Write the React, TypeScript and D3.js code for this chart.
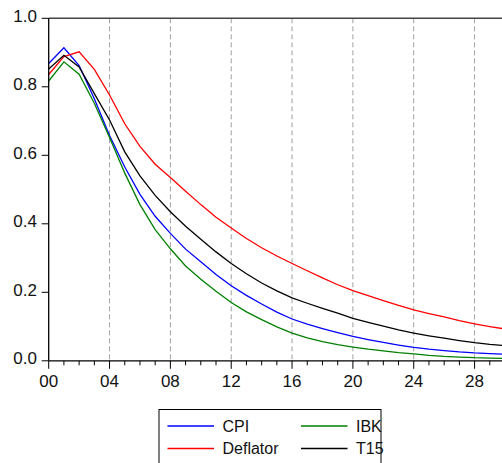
import React from "react";
import * as d3 from "d3";

// horizon 0..30
const periods = d3.range(0, 31);

const cpi = [0.868, 0.914, 0.862, 0.765, 0.658, 0.566, 0.486, 0.422, 0.372, 0.326, 0.289, 0.252, 0.219, 0.191, 0.166, 0.142, 0.122, 0.107, 0.094, 0.082, 0.071, 0.062, 0.054, 0.046, 0.039, 0.034, 0.030, 0.026, 0.023, 0.021, 0.019];
const deflator = [0.836, 0.888, 0.902, 0.851, 0.776, 0.692, 0.626, 0.574, 0.535, 0.495, 0.456, 0.419, 0.388, 0.357, 0.330, 0.306, 0.284, 0.263, 0.242, 0.222, 0.205, 0.190, 0.176, 0.162, 0.149, 0.138, 0.128, 0.117, 0.108, 0.100, 0.093];
const ibk = [0.817, 0.873, 0.837, 0.752, 0.652, 0.548, 0.456, 0.383, 0.327, 0.277, 0.238, 0.203, 0.170, 0.143, 0.120, 0.099, 0.081, 0.067, 0.056, 0.047, 0.040, 0.034, 0.029, 0.024, 0.020, 0.016, 0.013, 0.011, 0.009, 0.008, 0.007];
const t15 = [0.852, 0.892, 0.858, 0.780, 0.703, 0.610, 0.540, 0.483, 0.435, 0.393, 0.355, 0.318, 0.284, 0.254, 0.227, 0.204, 0.184, 0.168, 0.153, 0.139, 0.124, 0.112, 0.101, 0.090, 0.081, 0.073, 0.066, 0.059, 0.053, 0.048, 0.044];

const seriesNames = ["CPI", "Deflator", "IBK", "T15"];
const seriesColors = ["#0000ff", "#ff0000", "#008000", "#000000"];
const seriesValues = [cpi, deflator, ibk, t15];

const yTicks = [0, 0.2, 0.4, 0.6, 0.8, 1.0];
const xMajor = [0, 4, 8, 12, 16, 20, 24, 28];

const FONT = "'Liberation Sans', Arial, sans-serif";

export default function App() {
	const width = 502;
	const height = 463;

	const x = d3.scaleLinear().domain([0, 30]).range([48.7, 505]);
	const y = d3.scaleLinear().domain([0, 1]).range([360.8, 18.3]);

	const line = d3.line<number>()
		.x((d, i) => x(periods[i]))
		.y(d => y(d));

	const x0 = x(0);
	const yBase = y(0);

	// legend layout
	const legX = 159, legY = 409.5;
	const legend = [
		{ name: "CPI", col: 0, row: 0, color: seriesColors[0] },
		{ name: "IBK", col: 1, row: 0, color: seriesColors[2] },
		{ name: "Deflator", col: 0, row: 1, color: seriesColors[1] },
		{ name: "T15", col: 1, row: 1, color: seriesColors[3] },
	];

	return (
		<svg width={width} height={height} style={{ position: "absolute", left: 0, top: 0, background: "#fff" }}
			fontFamily={FONT}>
			{/* dashed verticals */}
			{xMajor.filter(t => t > 0).map(t => (
				<line key={"g" + t} x1={x(t)} x2={x(t)} y1={y(1)} y2={yBase}
					stroke="#a0a0a0" strokeWidth={1} strokeDasharray="5,3" />
			))}

			{/* top frame */}
			<line x1={x0} x2={width} y1={y(1)} y2={y(1)} stroke="#444" strokeWidth={1.5} />

			{/* series */}
			{seriesValues.map((vals, i) => (
				<path key={seriesNames[i]} d={line(vals) || ""} fill="none"
					stroke={seriesColors[i]} strokeWidth={1.3} />
			))}

			{/* y axis */}
			<line x1={x0} x2={x0} y1={y(1)} y2={yBase} stroke="#000" strokeWidth={1.3} />
			{yTicks.map(v => (
				<g key={"y" + v}>
					<line x1={x0 - 7} x2={x0} y1={y(v)} y2={y(v)} stroke="#000" strokeWidth={1} />
					<text x={37} y={y(v) + 3.5} textAnchor="end" fontSize={17} fill="#111">{v.toFixed(1)}</text>
				</g>
			))}

			{/* x axis */}
			<line x1={x0} x2={width} y1={yBase} y2={yBase} stroke="#000" strokeWidth={1.3} />
			{periods.map(t => (
				<line key={"xt" + t} x1={x(t)} x2={x(t)} y1={yBase}
					y2={yBase + (t % 4 === 0 ? 8 : 4.5)} stroke="#000" strokeWidth={1} />
			))}
			{xMajor.map(t => (
				<text key={"xl" + t} x={x(t)} y={386.5} textAnchor="middle" fontSize={17} fill="#111">
					{d3.format("02d")(t)}
				</text>
			))}

			{/* legend */}
			<rect x={legX} y={legY} width={222} height={60} fill="#fff" stroke="#000" strokeWidth={1} />
			{legend.map(l => {
				const lx = legX + 8.5 + l.col * 133.5;
				const ly = legY + 16.5 + l.row * 22.5;
				return (
					<g key={"l" + l.name}>
						<line x1={lx} x2={lx + 46.5} y1={ly} y2={ly} stroke={l.color} strokeWidth={1.3} />
						<text x={lx + 55} y={ly + 5.5} fontSize={16} fill="#111">{l.name}</text>
					</g>
				);
			})}
		</svg>
	);
}
